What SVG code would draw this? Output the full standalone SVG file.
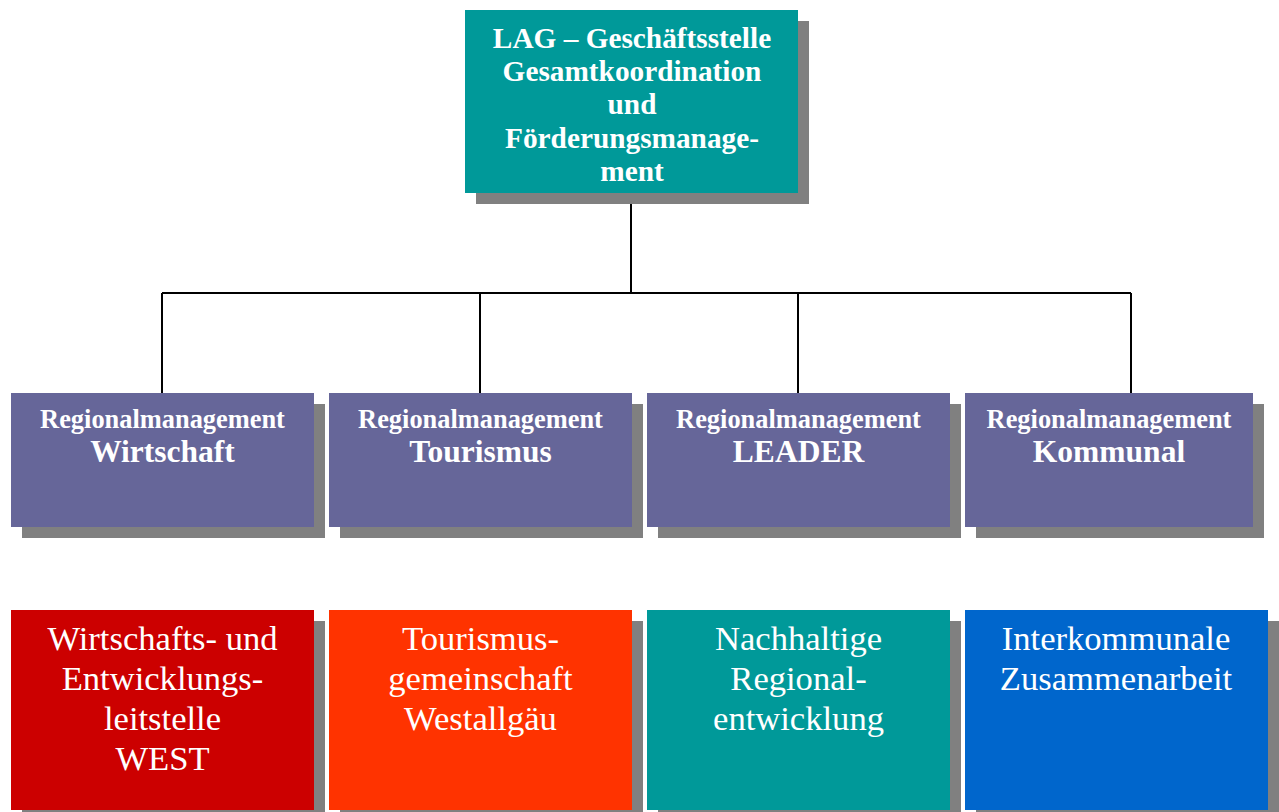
<svg xmlns="http://www.w3.org/2000/svg" width="1279" height="812" viewBox="0 0 1279 812">
<style>
.sh{fill:#808080}
.t{fill:#fff;font-family:"Liberation Serif","Times New Roman",serif;text-anchor:middle}
.b{font-weight:bold}
.top{font-size:29.3px}
.rm{font-size:26.4px}
.rn{font-size:31.5px}
.lo{font-size:34.6px}
.ln{stroke:#000;stroke-width:2;fill:none}
</style>
<rect width="1279" height="812" fill="#fff"/>
<g id="connectors">
<path class="ln" d="M631 193V293M162 293H1131M162 293V393M480 293V393M798 293V393M1131 293V393"/>
</g>
<g id="lag">
<rect class="sh" x="476" y="21" width="333" height="183"/>
<rect x="465" y="10" width="333" height="183" fill="#009999"/>
<text class="t b top" x="632"><tspan x="632" y="48">LAG – Geschäftsstelle</tspan><tspan x="632" y="81">Gesamtkoordination</tspan><tspan x="632" y="114">und</tspan><tspan x="632" y="148">Förderungsmanage-</tspan><tspan x="632" y="181">ment</tspan></text>
</g>
<g id="rm-wirtschaft">
<rect class="sh" x="22" y="404" width="303" height="134"/>
<rect x="11" y="393" width="303" height="134" fill="#666699"/>
<text class="t b rm" x="162.5" y="428">Regionalmanagement</text>
<text class="t b rn" x="162.5" y="462">Wirtschaft</text>
</g>
<g id="rm-tourismus">
<rect class="sh" x="340" y="404" width="303" height="134"/>
<rect x="329" y="393" width="303" height="134" fill="#666699"/>
<text class="t b rm" x="480.5" y="428">Regionalmanagement</text>
<text class="t b rn" x="480.5" y="462">Tourismus</text>
</g>
<g id="rm-leader">
<rect class="sh" x="658" y="404" width="303" height="134"/>
<rect x="647" y="393" width="303" height="134" fill="#666699"/>
<text class="t b rm" x="798.5" y="428">Regionalmanagement</text>
<text class="t b rn" x="798.5" y="462">LEADER</text>
</g>
<g id="rm-kommunal">
<rect class="sh" x="976" y="404" width="288" height="134"/>
<rect x="965" y="393" width="288" height="134" fill="#666699"/>
<text class="t b rm" x="1109" y="428">Regionalmanagement</text>
<text class="t b rn" x="1109" y="462">Kommunal</text>
</g>
<g id="west">
<rect class="sh" x="22" y="621" width="303" height="200"/>
<rect x="11" y="610" width="303" height="200" fill="#CC0000"/>
<text class="t lo"><tspan x="162.5" y="650">Wirtschafts- und</tspan><tspan x="162.5" y="690">Entwicklungs-</tspan><tspan x="162.5" y="730">leitstelle</tspan><tspan x="162.5" y="770">WEST</tspan></text>
</g>
<g id="westallgaeu">
<rect class="sh" x="340" y="621" width="303" height="200"/>
<rect x="329" y="610" width="303" height="200" fill="#FF3300"/>
<text class="t lo"><tspan x="480.5" y="650">Tourismus-</tspan><tspan x="480.5" y="690">gemeinschaft</tspan><tspan x="480.5" y="730">Westallgäu</tspan></text>
</g>
<g id="nachhaltig">
<rect class="sh" x="658" y="621" width="303" height="200"/>
<rect x="647" y="610" width="303" height="200" fill="#009999"/>
<text class="t lo"><tspan x="798.5" y="650">Nachhaltige</tspan><tspan x="798.5" y="690">Regional-</tspan><tspan x="798.5" y="730">entwicklung</tspan></text>
</g>
<g id="interkommunal">
<rect class="sh" x="976" y="621" width="303" height="200"/>
<rect x="965" y="610" width="303" height="200" fill="#0066CC"/>
<text class="t lo"><tspan x="1116" y="650">Interkommunale</tspan><tspan x="1116" y="690">Zusammenarbeit</tspan></text>
</g>
</svg>
